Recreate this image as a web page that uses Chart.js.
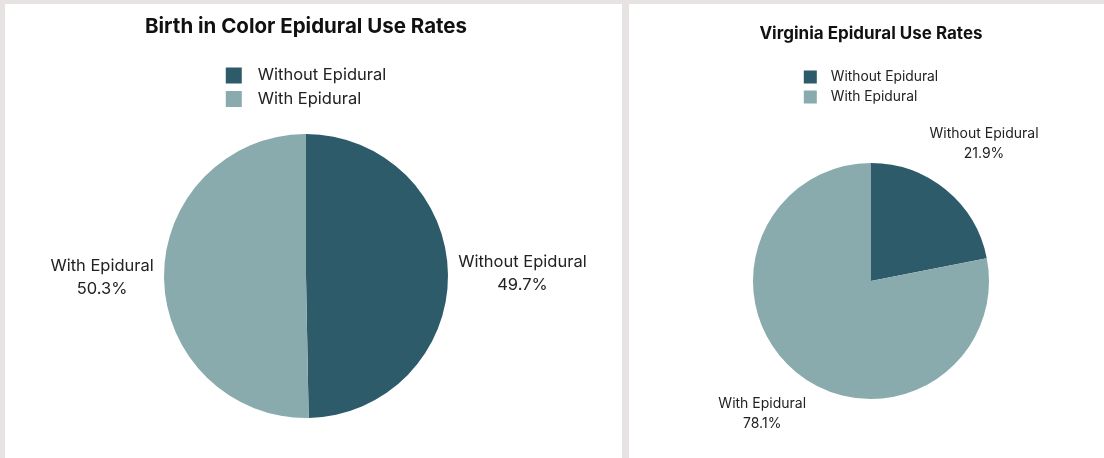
<!DOCTYPE html>
<html>
<head>
<meta charset="utf-8">
<script src="https://cdn.jsdelivr.net/npm/chart.js@4"></script>
<style>
  html, body { margin: 0; padding: 0; }
  body { width: 1104px; height: 458px; background: #e7e3e3; position: relative; overflow: hidden; }
  .panel { position: absolute; top: 4px; height: 454px; background: #ffffff; }
  #panelLeft { left: 5px; width: 617px; }
  #panelRight { left: 629px; width: 475px; }
</style>
</head>
<body>
<div class="panel" id="panelLeft"><canvas id="pieLeft"></canvas></div>
<div class="panel" id="panelRight"><canvas id="pieRight"></canvas></div>
<script>
// datos de los graficos
const categorias = ["Without Epidural", "With Epidural"];
const valoresBirthInColor = [49.7, 50.3];
const valoresVirginia = [21.9, 78.1];
const colores = ["#2d5b6a", "#8aabad"];

const fuente = "Inter, 'Open Sans', sans-serif";

// leyenda vertical centrada arriba del grafico
const leyendaVertical = {
  id: "leyendaVertical",
  afterDraw(chart, args, opts) {
    const ctx = chart.ctx;
    const labels = chart.data.labels;
    const bg = chart.data.datasets[0].backgroundColor;
    ctx.save();
    ctx.font = `${opts.fontSize}px ${fuente}`;
    const anchoTexto = Math.max(...labels.map((l) => ctx.measureText(l).width));
    const ancho = opts.box + opts.gap + anchoTexto;
    const cx = (chart.chartArea.left + chart.chartArea.right) / 2;
    const x0 = cx - ancho / 2;
    labels.forEach((l, i) => {
      const y = opts.top + i * opts.row;
      ctx.fillStyle = bg[i];
      ctx.fillRect(x0, y - opts.box / 2, opts.box, opts.box);
      ctx.fillStyle = "#222";
      ctx.textAlign = "left";
      ctx.textBaseline = "middle";
      ctx.fillText(l, x0 + opts.box + opts.gap, y);
    });
    ctx.restore();
  },
};

// etiquetas afuera de cada porcion
const etiquetasAfuera = {
  id: "etiquetasAfuera",
  afterDraw(chart, args, opts) {
    const ctx = chart.ctx;
    const meta = chart.getDatasetMeta(0);
    const valores = chart.data.datasets[0].data;
    const total = valores.reduce((a, b) => a + b, 0);
    ctx.save();
    ctx.font = `${opts.fontSize}px ${fuente}`;
    ctx.fillStyle = "#222";
    ctx.textAlign = "center";
    ctx.textBaseline = "middle";
    meta.data.forEach((arc, i) => {
      const p = arc.getProps(["x", "y", "startAngle", "endAngle", "outerRadius"], true);
      const a = (p.startAngle + p.endAngle) / 2;
      const lineas = [chart.data.labels[i], ((valores[i] / total) * 100).toFixed(1) + "%"];
      const w = Math.max(...lineas.map((t) => ctx.measureText(t).width));
      const h = opts.line * 2;
      const dist = p.outerRadius + opts.gap + (w / 2) * Math.abs(Math.cos(a)) + (h / 2) * Math.abs(Math.sin(a));
      const x = p.x + Math.cos(a) * dist;
      const y = p.y + Math.sin(a) * dist;
      ctx.fillText(lineas[0], x, y - opts.line / 2);
      ctx.fillText(lineas[1], x, y + opts.line / 2);
    });
    ctx.restore();
  },
};

function crearPie(id, titulo, valores, cfg) {
  return new Chart(document.getElementById(id), {
    type: "pie",
    data: {
      labels: categorias,
      datasets: [{ data: valores, backgroundColor: colores, borderWidth: 0, hoverOffset: 0 }],
    },
    options: {
      responsive: true,
      maintainAspectRatio: false,
      animation: false,
      layout: { padding: cfg.padding },
      plugins: {
        legend: { display: false },
        tooltip: { enabled: false },
        title: {
          display: true,
          text: titulo,
          color: "#111",
          font: { family: fuente, size: cfg.titleSize, weight: "bold" },
          padding: cfg.titlePadding,
        },
        leyendaVertical: cfg.leyenda,
        etiquetasAfuera: cfg.etiquetas,
      },
    },
    plugins: [leyendaVertical, etiquetasAfuera],
  });
}

crearPie("pieLeft", "Birth in Color Epidural Use Rates", valoresBirthInColor, {
  padding: { left: 0, right: 15, top: 0, bottom: 40 },
  titleSize: 20.5,
  titlePadding: { top: 11, bottom: 94.4 },
  leyenda: { top: 71.5, row: 23.5, box: 16, gap: 16, fontSize: 16.5 },
  etiquetas: { fontSize: 16.5, line: 23, gap: 10 },
});

crearPie("pieRight", "Virginia Epidural Use Rates", valoresVirginia, {
  padding: { left: 9, right: 0, top: 0, bottom: 59 },
  titleSize: 17,
  titlePadding: { top: 20, bottom: 118.6 },
  leyenda: { top: 73, row: 20, box: 13, gap: 14, fontSize: 13.8 },
  etiquetas: { fontSize: 14, line: 20, gap: 10 },
});
</script>
</body>
</html>
